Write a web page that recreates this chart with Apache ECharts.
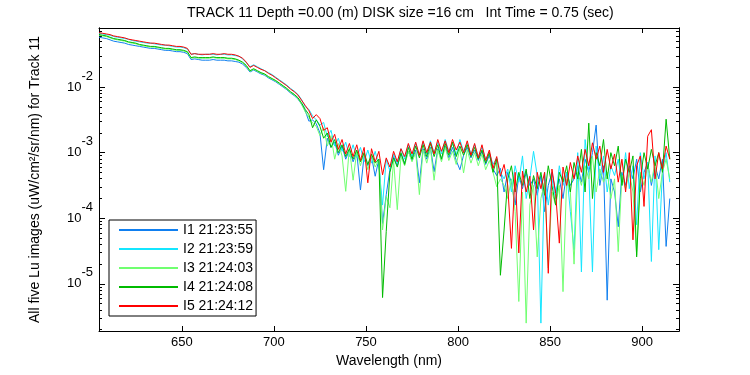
<!DOCTYPE html>
<html>
<head>
<meta charset="utf-8">
<title>TRACK 11 Lu images</title>
<script src="https://cdn.jsdelivr.net/npm/echarts@6/dist/echarts.min.js"></script>
<style>
  html, body { margin: 0; padding: 0; background: #fff; }
  #main { width: 750px; height: 375px; }
</style>
</head>
<body>
<div id="main"></div>
<script>
// wavelength grid (nm)
var wavelength = [
  605,607,609,611,613,615,617,619,621,623,
  625,627,629,631,633,635,637,639,641,643,
  645,647,649,651,653,655,657,659,661,663,
  665,667,669,671,673,675,677,679,681,683,
  685,687,689,691,693,695,697,699,701,703,
  705,707,709,711,713,715,717,719,721,723,
  725,727,729,731,733,735,737,739,741,743,
  745,747,749,751,753,755,757,759,761,763,
  765,767,769,771,773,775,777,779,781,783,
  785,787,789,791,793,795,797,799,801,803,
  805,807,809,811,813,815,817,819,821,823,
  825,827,829,831,833,835,837,839,841,843,
  845,847,849,851,853,855,857,859,861,863,
  865,867,869,871,873,875,877,879,881,883,
  885,887,889,891,893,895,897,899,901,903,
  905,907,909,911,913,915
];

// log10 of Lu (uW/cm^2/sr/nm)
var logI1 = [
  -1.24,-1.25,-1.26,-1.28,-1.30,-1.31,-1.32,-1.33,-1.35,-1.36,
  -1.37,-1.38,-1.39,-1.40,-1.41,-1.41,-1.42,-1.43,-1.44,-1.44,
  -1.45,-1.46,-1.46,-1.47,-1.49,-1.58,-1.57,-1.58,-1.59,-1.59,
  -1.59,-1.58,-1.59,-1.59,-1.59,-1.60,-1.60,-1.61,-1.62,-1.65,
  -1.70,-1.77,-1.74,-1.77,-1.80,-1.82,-1.86,-1.89,-1.92,-1.96,
  -2.00,-2.04,-2.09,-2.13,-2.18,-2.26,-2.36,-2.52,-2.50,-2.56,
  -2.70,-3.26,-2.78,-2.92,-2.84,-3.04,-2.90,-3.10,-2.96,-3.14,
  -3.00,-3.57,-3.04,-3.20,-3.06,-3.36,-3.10,-4.08,-3.64,-3.26,
  -3.06,-3.20,-3.02,-3.16,-2.98,-3.12,-2.96,-3.46,-2.94,-3.10,
  -2.92,-3.29,-2.94,-3.10,-2.90,-3.08,-2.92,-3.12,-3.26,-3.04,
  -2.92,-3.08,-2.96,-3.12,-2.98,-3.18,-3.04,-3.25,-3.35,-3.24,
  -3.60,-3.30,-3.45,-3.80,-3.35,-3.55,-3.30,-3.50,-3.40,-3.65,
  -3.35,-3.90,-3.50,-3.30,-3.60,-3.40,-3.70,-3.30,-3.50,-3.40,
  -3.20,-3.45,-3.10,-3.30,-3.00,-2.58,-3.50,-3.20,-5.25,-3.40,
  -3.60,-4.13,-3.30,-3.50,-3.20,-3.40,-3.10,-3.60,-3.30,-3.15,
  -3.50,-3.20,-3.40,-3.10,-4.43,-3.70
];
var logI2 = [
  -1.18,-1.19,-1.20,-1.21,-1.23,-1.24,-1.25,-1.26,-1.27,-1.29,
  -1.30,-1.31,-1.32,-1.33,-1.33,-1.34,-1.35,-1.36,-1.36,-1.37,
  -1.38,-1.39,-1.39,-1.40,-1.42,-1.50,-1.49,-1.50,-1.51,-1.50,
  -1.50,-1.50,-1.51,-1.50,-1.50,-1.51,-1.51,-1.52,-1.53,-1.57,
  -1.63,-1.69,-1.66,-1.69,-1.72,-1.75,-1.78,-1.81,-1.85,-1.89,
  -1.93,-1.97,-2.02,-2.06,-2.11,-2.19,-2.30,-2.34,-2.44,-2.50,
  -2.58,-2.54,-2.76,-2.66,-2.90,-2.78,-2.98,-2.84,-3.06,-2.88,
  -3.08,-2.92,-3.14,-2.96,-3.16,-2.98,-3.20,-3.80,-3.10,-3.28,
  -3.02,-3.16,-2.94,-3.10,-2.88,-3.06,-2.86,-3.04,-2.84,-3.02,
  -2.82,-3.00,-2.84,-3.02,-2.80,-2.98,-2.86,-3.04,-2.80,-2.98,
  -2.86,-3.02,-2.88,-3.06,-2.92,-3.10,-3.00,-3.18,-3.08,-3.30,
  -3.40,-3.25,-3.60,-3.20,-3.45,-3.05,-3.70,-3.40,-2.98,-3.35,
  -5.60,-3.30,-3.80,-3.40,-3.70,-3.20,-3.50,-3.30,-3.90,-4.48,
  -3.00,-4.82,-2.80,-3.30,-4.82,-2.90,-3.40,-3.05,-3.60,-3.20,
  -3.35,-3.10,-3.50,-3.00,-3.55,-3.20,-4.10,-3.00,-3.40,-3.15,
  -4.66,-3.05,-4.48,-3.30,-3.00,-3.45
];
var logI3 = [
  -1.21,-1.22,-1.23,-1.25,-1.27,-1.28,-1.29,-1.30,-1.32,-1.33,
  -1.34,-1.36,-1.37,-1.38,-1.39,-1.39,-1.40,-1.41,-1.42,-1.42,
  -1.43,-1.44,-1.44,-1.45,-1.47,-1.56,-1.55,-1.56,-1.56,-1.56,
  -1.56,-1.55,-1.56,-1.56,-1.56,-1.57,-1.57,-1.58,-1.60,-1.63,
  -1.68,-1.76,-1.73,-1.76,-1.79,-1.81,-1.85,-1.88,-1.91,-1.95,
  -1.99,-2.03,-2.08,-2.12,-2.17,-2.26,-2.38,-2.46,-2.55,-2.60,
  -2.74,-2.62,-2.90,-2.74,-3.10,-2.86,-3.05,-3.59,-2.92,-3.42,
  -2.98,-3.20,-3.00,-3.26,-3.04,-3.22,-3.10,-4.18,-3.67,-3.84,
  -3.12,-3.87,-3.06,-3.20,-2.98,-3.14,-3.00,-3.64,-2.96,-3.16,
  -2.94,-3.42,-2.96,-3.14,-2.92,-3.12,-2.98,-3.18,-2.94,-3.31,
  -2.96,-3.16,-3.00,-3.20,-3.02,-3.26,-3.12,-3.30,-3.52,-3.40,
  -3.50,-3.70,-3.40,-3.90,-5.27,-3.60,-5.60,-3.80,-3.50,-4.59,
  -3.70,-3.45,-4.76,-3.60,-3.80,-3.50,-5.12,-3.40,-3.60,-4.70,
  -3.30,-3.50,-3.20,-3.40,-3.05,-3.60,-3.25,-3.45,-3.30,-3.70,
  -3.40,-4.51,-3.35,-3.55,-3.30,-3.60,-4.56,-3.30,-3.50,-3.20,
  -3.45,-3.15,-3.70,-3.30,-3.10,-3.40
];
var logI4 = [
  -1.20,-1.21,-1.22,-1.24,-1.26,-1.27,-1.28,-1.29,-1.31,-1.32,
  -1.33,-1.35,-1.36,-1.37,-1.38,-1.38,-1.39,-1.40,-1.41,-1.41,
  -1.42,-1.43,-1.43,-1.44,-1.46,-1.55,-1.54,-1.55,-1.55,-1.55,
  -1.55,-1.54,-1.55,-1.55,-1.55,-1.56,-1.56,-1.57,-1.59,-1.62,
  -1.67,-1.75,-1.72,-1.75,-1.78,-1.80,-1.84,-1.87,-1.90,-1.94,
  -1.98,-2.02,-2.07,-2.11,-2.16,-2.24,-2.34,-2.42,-2.62,-2.50,
  -2.60,-2.78,-2.70,-2.92,-2.80,-3.00,-2.88,-3.06,-2.94,-3.10,
  -2.96,-3.14,-3.00,-3.18,-3.02,-3.16,-3.10,-5.21,-4.20,-3.30,
  -3.08,-3.22,-3.00,-3.18,-2.92,-3.10,-2.90,-3.08,-2.88,-3.06,
  -2.86,-3.06,-2.88,-3.10,-2.86,-3.04,-2.84,-3.06,-2.90,-3.04,
  -2.88,-3.06,-2.92,-3.10,-2.96,-3.16,-3.00,-3.30,-3.10,-4.87,
  -4.18,-3.40,-3.20,-3.60,-3.30,-3.50,-3.25,-3.70,-3.35,-3.55,
  -3.30,-3.65,-3.20,-3.50,-3.80,-3.30,-3.45,-3.20,-3.60,-3.15,
  -3.40,-2.95,-3.60,-2.55,-3.70,-3.00,-3.20,-2.80,-3.40,-3.00,
  -3.20,-2.90,-3.50,-3.10,-3.30,-3.05,-4.59,-3.40,-3.00,-3.25,
  -2.95,-3.20,-3.00,-3.30,-2.49,-3.10
];
var logI5 = [
  -1.17,-1.18,-1.19,-1.20,-1.22,-1.23,-1.24,-1.25,-1.27,-1.28,
  -1.29,-1.30,-1.31,-1.32,-1.33,-1.33,-1.34,-1.35,-1.36,-1.36,
  -1.37,-1.38,-1.38,-1.39,-1.41,-1.50,-1.49,-1.50,-1.50,-1.50,
  -1.50,-1.49,-1.50,-1.50,-1.49,-1.50,-1.50,-1.51,-1.53,-1.56,
  -1.62,-1.70,-1.67,-1.70,-1.73,-1.75,-1.79,-1.82,-1.86,-1.90,
  -1.94,-1.98,-2.03,-2.07,-2.12,-2.20,-2.28,-2.36,-2.48,-2.42,
  -2.48,-2.66,-2.62,-2.84,-2.72,-2.95,-2.80,-3.02,-2.86,-3.06,
  -2.88,-3.12,-2.92,-3.46,-2.94,-3.14,-2.98,-3.34,-3.08,-3.22,
  -2.98,-3.14,-2.94,-3.06,-2.86,-3.02,-2.84,-3.04,-2.82,-3.00,
  -2.84,-3.02,-2.80,-2.98,-2.82,-3.00,-2.80,-2.96,-2.84,-3.00,
  -2.82,-3.04,-2.86,-3.08,-2.88,-3.12,-2.96,-3.24,-3.06,-3.36,
  -3.18,-3.50,-4.46,-3.30,-4.53,-3.28,-3.60,-3.36,-4.18,-3.30,
  -3.55,-3.30,-4.84,-3.25,-3.62,-4.38,-3.22,-3.50,-3.15,-3.40,
  -3.05,-3.30,-2.95,-3.20,-2.85,-3.10,-2.90,-3.30,-2.95,-3.25,
  -3.02,-3.45,-3.10,-3.60,-3.00,-4.33,-3.20,-3.05,-3.82,-2.75,
  -2.65,-3.40,-3.00,-3.25,-2.90,-3.10
];

var seriesNames = ['I1 21:23:55', 'I2 21:23:59', 'I3 21:24:03', 'I4 21:24:08', 'I5 21:24:12'];
var seriesColors = ['#0f7ff0', '#14e6ff', '#70ff70', '#00bb00', '#ff0000'];
var seriesLogs = [logI1, logI2, logI3, logI4, logI5];

var xTicks = [650, 700, 750, 800, 850, 900];
var decadeTicks = [1e-5, 1e-4, 1e-3, 1e-2];
var minorTicks = [
  2e-6, 3e-6, 4e-6, 5e-6, 6e-6, 7e-6, 8e-6, 9e-6,
  2e-5, 3e-5, 4e-5, 5e-5, 6e-5, 7e-5, 8e-5, 9e-5,
  2e-4, 3e-4, 4e-4, 5e-4, 6e-4, 7e-4, 8e-4, 9e-4,
  2e-3, 3e-3, 4e-3, 5e-3, 6e-3, 7e-3, 8e-3, 9e-3,
  2e-2, 3e-2, 4e-2, 5e-2, 6e-2, 7e-2
];

var FONT = '"Liberation Sans", Arial, Helvetica, sans-serif';
var chart = echarts.init(document.getElementById('main'), null, { renderer: 'canvas' });

function yAxisDef(position, ticks, len, withLabels) {
  var ax = {
    type: 'log',
    logBase: 10,
    position: position,
    min: 1.905e-6,
    max: 0.0796,
    axisLine: { show: true, lineStyle: { color: '#000', width: 1 } },
    axisTick: { show: true, inside: true, length: len, customValues: ticks,
      lineStyle: { color: '#000', width: 1 } },
    axisLabel: { show: false },
    splitLine: { show: false },
    minorTick: { show: false }
  };
  if (withLabels) {
    ax.axisLabel = {
      show: true,
      customValues: ticks,
      margin: 6,
      color: '#000',
      fontFamily: FONT,
      formatter: function (v) {
        return '{b|10}{s|' + Math.round(Math.log10(v)) + '}';
      },
      rich: {
        b: { fontSize: 13, fontFamily: FONT, color: '#000', verticalAlign: 'middle' },
        s: { fontSize: 13, fontFamily: FONT, color: '#000', verticalAlign: 'middle',
             padding: [0, 0, 22, 0] }
      }
    };
    ax.name = 'All five Lu images (uW/cm\u00b2/sr/nm) for Track 11';
    ax.nameLocation = 'middle';
    ax.nameGap = 57;
    ax.nameTextStyle = { fontSize: 14, fontFamily: FONT, color: '#000' };
  }
  return ax;
}

function xAxisDef(position, withLabels) {
  var ax = {
    type: 'value',
    position: position,
    min: 605,
    max: 920,
    axisLine: { show: true, onZero: false, lineStyle: { color: '#000', width: 1 } },
    axisTick: { show: true, inside: true, length: 5, customValues: xTicks,
      lineStyle: { color: '#000', width: 1 } },
    axisLabel: { show: false },
    splitLine: { show: false }
  };
  if (withLabels) {
    ax.axisLabel = { show: true, customValues: xTicks, margin: 5, color: '#000',
      fontSize: 13, fontFamily: FONT };
    ax.name = 'Wavelength (nm)';
    ax.nameLocation = 'middle';
    ax.nameGap = 19;
    ax.nameTextStyle = { fontSize: 14, fontFamily: FONT, color: '#000' };
  }
  return ax;
}

var series = seriesNames.map(function (name, k) {
  return {
    name: name,
    type: 'line',
    xAxisIndex: 0,
    yAxisIndex: 0,
    symbol: 'none',
    showSymbol: false,
    color: seriesColors[k],
    lineStyle: { width: 1, color: seriesColors[k] },
    data: wavelength.map(function (w, i) { return [w, Math.pow(10, seriesLogs[k][i])]; })
  };
});

var option = {
  backgroundColor: '#fff',
  animation: false,
  title: {
    text: 'TRACK 11 Depth =0.00 (m) DISK size =16 cm   Int Time = 0.75 (sec)',
    left: 187,
    top: 6,
    padding: 0,
    textStyle: { fontSize: 14, fontWeight: 'normal', fontFamily: FONT, color: '#000' }
  },
  grid: { left: 99, right: 71, top: 28, bottom: 44, containLabel: false },
  legend: {
    orient: 'vertical',
    left: 109,
    top: 220,
    padding: [3, 3, 3, 9],
    itemWidth: 59,
    itemHeight: 14,
    itemGap: 5,
    backgroundColor: '#fff',
    borderColor: '#000',
    borderWidth: 1,
    borderRadius: 0,
    itemStyle: { opacity: 0, borderWidth: 0 },
    textStyle: { fontSize: 14, fontFamily: FONT, color: '#000' },
    data: seriesNames
  },
  xAxis: [xAxisDef('bottom', true), xAxisDef('top', false)],
  yAxis: [
    yAxisDef('left', decadeTicks, 6, true),
    yAxisDef('left', minorTicks, 3, false),
    yAxisDef('right', decadeTicks, 6, false),
    yAxisDef('right', minorTicks, 3, false)
  ],
  series: series
};

chart.setOption(option);
</script>
</body>
</html>
